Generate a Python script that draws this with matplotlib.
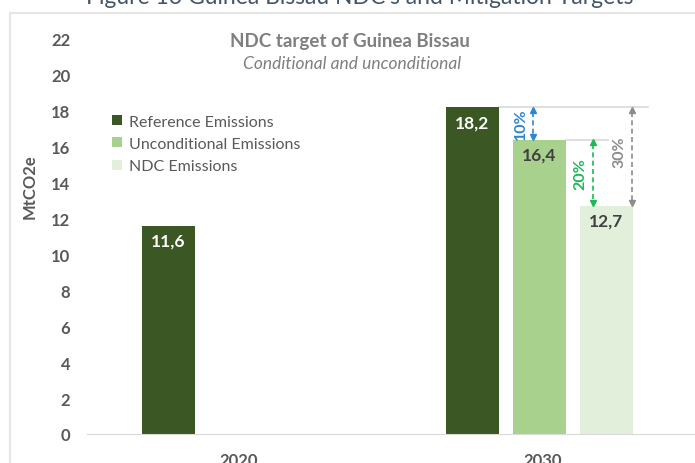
import numpy as np
import matplotlib
matplotlib.use("Agg")
import matplotlib.pyplot as plt
from matplotlib.lines import Line2D

plt.rcParams['font.family'] = ['Lato', 'DejaVu Sans']

years = ["2020", "2030"]
series = ["Reference Emissions", "Unconditional Emissions", "NDC Emissions"]
values = {
    "Reference Emissions": [11.6, 18.2],
    "Unconditional Emissions": [np.nan, 16.4],
    "NDC Emissions": [np.nan, 12.7],
}
colors = ["#3B5724", "#A9D18E", "#E2EFDA"]
label_colors = ["white", "#404040", "#404040"]
yticks = np.arange(0, 23, 2)

fig = plt.figure(figsize=(6.95, 4.64), dpi=100)
ax = fig.add_axes([87 / 695, 1 - 435 / 464, 608 / 695, 395 / 464])

x = np.arange(len(years))
width = 0.175
offsets = [-0.232, -0.012, 0.208]
for i, name in enumerate(series):
    v = np.array(values[name], dtype=float)
    ax.bar(x + offsets[i], v, width, color=colors[i], label=name, zorder=2)
    for xi, vi in zip(x + offsets[i], v):
        if not np.isnan(vi):
            ax.annotate(f"{vi:.1f}".replace(".", ","), (xi, vi), xytext=(0, -5),
                        textcoords="offset points", ha="center", va="top",
                        fontsize=12.5, fontweight="bold", color=label_colors[i])

ax.set_xlim(-0.5, 1.5)
ax.set_ylim(0, 22)
ax.set_yticks(yticks)
ax.set_xticks(x)
ax.set_xticklabels(years)
for s in ["top", "right", "left"]:
    ax.spines[s].set_visible(False)
ax.spines["bottom"].set_color("#D9D9D9")
ax.tick_params(axis="both", length=0, labelsize=12, labelcolor="#595959")
ax.tick_params(axis="y", pad=12)
ax.tick_params(axis="x", pad=13)
for t in ax.get_xticklabels() + ax.get_yticklabels():
    t.set_fontweight("bold")

# reference lines and reduction arrows (2030 group)
ref, uncond, ndc = values[series[0]][1], values[series[1]][1], values[series[2]][1]
x30 = x[1]
ax.plot([x30 + offsets[0] + width / 2, x30 + 0.345], [ref, ref], color="#D9D9D9", lw=1.2, zorder=1)
ax.plot([x30 + offsets[1] + width / 2, x30 + 0.215], [uncond, uncond], color="#D9D9D9", lw=1.2, zorder=1)

arrows = [
    (x30 - 0.032, ref, uncond, "#2E86D1", "10%", x30 - 0.072, 0.0),
    (x30 + 0.163, uncond, ndc, "#1DB954", "20%", x30 + 0.122, 0.0),
    (x30 + 0.293, ref, ndc, "#8C8C8C", "30%", x30 + 0.25, 0.3),
]
for ax_x, y0, y1, c, txt, tx, dy in arrows:
    ax.plot([ax_x, ax_x], [y0 - 0.25, y1 + 0.25], ls=(0, (3, 2)), color=c, lw=1.2)
    ax.plot(ax_x, y0 - 0.15, marker="^", color=c, ms=4)
    ax.plot(ax_x, y1 + 0.15, marker="v", color=c, ms=4)
    ax.text(tx, (y0 + y1) / 2 + dy, txt, rotation=90, ha="center", va="center",
            fontsize=11.5, fontweight="bold", color=c)

leg = ax.legend(loc="upper left", bbox_to_anchor=(0.018, 0.845), frameon=False,
                handlelength=0.6, handleheight=0.6, handletextpad=0.45,
                labelspacing=0.52, fontsize=11.5)
for t in leg.get_texts():
    t.set_color("#595959")

fig.text(350 / 695, 1 - 41 / 464, "NDC target of Guinea Bissau", ha="center", va="center",
         fontsize=13.5, fontweight="bold", color="#7F7F7F")
fig.text(352 / 695, 1 - 64 / 464, "Conditional and unconditional", ha="center", va="center",
         fontsize=12.5, style="italic", color="#7F7F7F")
fig.text(30 / 695, 1 - 187 / 464, "MtCO2e", rotation=90, ha="center", va="center",
         fontsize=12, fontweight="bold", color="#595959")

# outer frame and cut caption
fig.add_artist(Line2D([10 / 695, 1], [1 - 14 / 464] * 2, color="#E6E6E6", lw=1.5))
fig.add_artist(Line2D([10 / 695] * 2, [0, 1 - 14 / 464], color="#E6E6E6", lw=1.5))
fig.text(360 / 695, 1 - 4 / 464, "Figure 16 Guinea Bissau NDC's and Mitigation Targets",
         ha="center", va="baseline", fontsize=16.5, color="#44546A")

fig.savefig("out.png", dpi=100)
